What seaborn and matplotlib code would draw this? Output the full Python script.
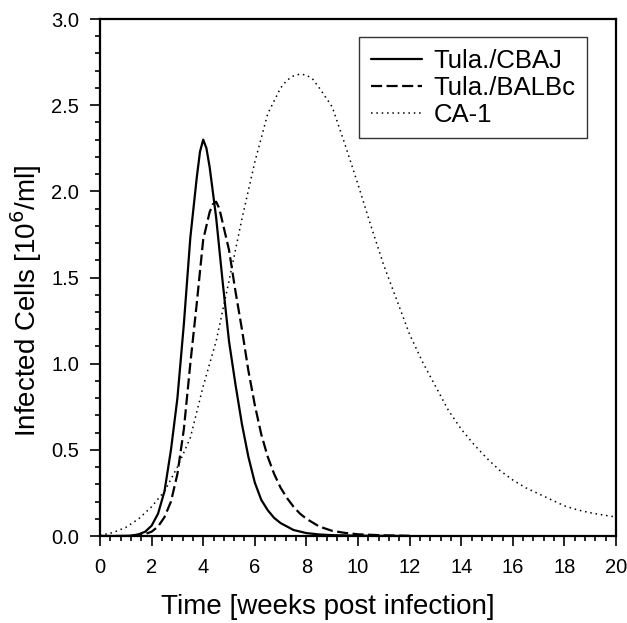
import numpy as np
import pandas as pd
import seaborn as sns
import matplotlib.pyplot as plt
from matplotlib.ticker import MultipleLocator

# Tula./CBAJ (solid)
t_cbaj = [0, 0.5, 1.0, 1.25, 1.5, 1.75, 2.0, 2.25, 2.5, 2.75, 3.0, 3.25, 3.5, 3.75, 3.875,
          4.0, 4.125, 4.25, 4.5, 4.75, 5.0, 5.25, 5.5, 5.75, 6.0, 6.25, 6.5, 6.75, 7.0,
          7.5, 8.0, 8.5, 9.0, 10.0, 11.0, 12.0]
y_cbaj = [0, 0, 0.001, 0.003, 0.01, 0.025, 0.06, 0.13, 0.26, 0.50, 0.80, 1.23, 1.73, 2.08, 2.23,
          2.30, 2.25, 2.14, 1.85, 1.48, 1.13, 0.88, 0.65, 0.46, 0.31, 0.21, 0.15, 0.105, 0.075,
          0.035, 0.017, 0.009, 0.005, 0.002, 0.001, 0]

# Tula./BALBc (dashed)
t_balbc = [0, 0.5, 1.0, 1.25, 1.5, 1.75, 2.0, 2.25, 2.5, 2.75, 3.0, 3.25, 3.5, 3.75,
           4.0, 4.25, 4.375, 4.5, 4.625, 4.75, 5.0, 5.25, 5.5, 5.75, 6.0, 6.25, 6.5, 6.75, 7.0,
           7.25, 7.5, 7.75, 8.0, 8.5, 9.0, 9.5, 10.0, 11.0, 12.0]
y_balbc = [0, 0, 0, 0.002, 0.005, 0.012, 0.025, 0.055, 0.11, 0.20, 0.36, 0.62, 1.00, 1.35,
           1.72, 1.88, 1.925, 1.94, 1.90, 1.82, 1.66, 1.42, 1.20, 0.96, 0.76, 0.59, 0.46, 0.36, 0.28,
           0.22, 0.17, 0.13, 0.10, 0.055, 0.03, 0.018, 0.01, 0.004, 0.001]

# CA-1 (dotted)
t_ca1 = [0, 0.5, 1.0, 1.5, 2.0, 2.5, 3.0, 3.5, 4.0, 4.5, 5.0, 5.5, 6.0, 6.5, 7.0, 7.25, 7.5,
         7.75, 8.0, 8.25, 8.5, 9.0, 9.5, 10.0, 10.5, 11.0, 11.5, 12.0, 12.5, 13.0, 13.5, 14.0,
         14.5, 15.0, 15.5, 16.0, 16.5, 17.0, 17.5, 18.0, 18.5, 19.0, 19.5, 20.0]
y_ca1 = [0.004, 0.02, 0.05, 0.10, 0.17, 0.26, 0.40, 0.57, 0.87, 1.13, 1.48, 1.84, 2.17,
         2.45, 2.60, 2.645, 2.67, 2.68, 2.675, 2.65, 2.60, 2.49, 2.27, 2.04, 1.80, 1.57, 1.37,
         1.17, 1.01, 0.87, 0.73, 0.62, 0.53, 0.45, 0.38, 0.325, 0.28, 0.245, 0.21, 0.175,
         0.152, 0.135, 0.122, 0.11]

sns.set_style("ticks")
plt.rcParams['font.family'] = ['Liberation Sans', 'DejaVu Sans']
plt.rcParams['text.color'] = 'black'
plt.rcParams['axes.labelcolor'] = 'black'

fig = plt.figure(figsize=(6.27, 6.23), dpi=100)
ax = fig.add_axes([0.1595, 0.1396, 0.8230, 0.8299])

sns.lineplot(x=t_cbaj, y=y_cbaj, ax=ax, color='black', lw=1.6, label='Tula./CBAJ')
sns.lineplot(x=t_balbc, y=y_balbc, ax=ax, color='black', lw=1.6,
             label='Tula./BALBc').lines[-1].set_dashes((5, 2))
sns.lineplot(x=t_ca1, y=y_ca1, ax=ax, color='black', lw=1.1,
             label='CA-1').lines[-1].set_linestyle((0, (1, 2.5)))

ax.set_xlim(0, 20)
ax.set_ylim(0, 3.0)
ax.xaxis.set_major_locator(MultipleLocator(2))
ax.xaxis.set_minor_locator(MultipleLocator(0.4))
ax.yaxis.set_major_locator(MultipleLocator(0.5))
ax.yaxis.set_minor_locator(MultipleLocator(0.1))
ax.yaxis.set_major_formatter(plt.FormatStrFormatter('%.1f'))
ax.tick_params(which='major', direction='out', length=7, width=1.2, labelsize=14.5,
               colors='black')
ax.tick_params(axis='x', which='major', pad=9)
ax.tick_params(axis='y', which='major', pad=8)
ax.tick_params(which='minor', direction='out', length=3.6, width=1.2, colors='black')
for s in ax.spines.values():
    s.set_linewidth(1.6)
    s.set_color('black')

ax.set_xlabel('Time [weeks post infection]', fontsize=20, va='center', color='black')
ax.set_ylabel('Infected Cells [10$^6$/ml]', fontsize=20, va='center', color='black')
ax.xaxis.set_label_coords(0.442, -0.137)
ax.yaxis.set_label_coords(-0.143, 0.456)

leg = ax.legend(loc='upper right', bbox_to_anchor=(0.944, 0.965), fontsize=18.5,
                frameon=True, fancybox=False, handlelength=2.0, handletextpad=0.45,
                borderpad=0.45, borderaxespad=0, labelspacing=0.12)
leg.get_frame().set_edgecolor('black')
leg.get_frame().set_linewidth(1.0)
for txt in leg.get_texts():
    txt.set_color('black')

fig.savefig('out.png', dpi=100, facecolor='white')
